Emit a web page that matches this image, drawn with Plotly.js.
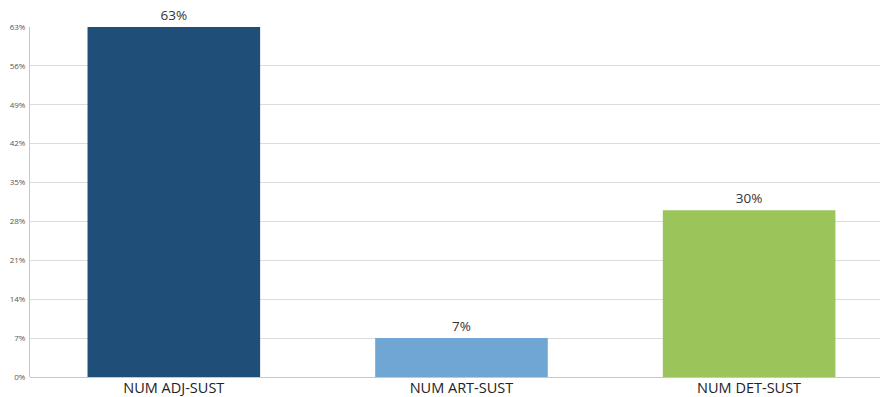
<!DOCTYPE html>
<html>
<head>
<meta charset="utf-8">
<script src="https://cdn.plot.ly/plotly-3.0.1.min.js"></script>
<style>
  html, body { margin: 0; padding: 0; background: #fff; overflow: hidden; }
  #chart { width: 883px; height: 397px; }
</style>
</head>
<body>
<div id="chart"></div>
<script>
// Share of each construction type (percent)
const categories = ["NUM ADJ-SUST", "NUM ART-SUST", "NUM DET-SUST"];
const shares = [63, 7, 30];
const barColors = ["#1F4E79", "#6FA6D4", "#9BC55A"];
const yTicks = [0, 7, 14, 21, 28, 35, 42, 49, 56, 63];

const trace = {
  type: "bar",
  x: categories,
  y: shares,
  marker: { color: barColors },
  text: shares.map(v => v + "%"),
  textposition: "outside",
  cliponaxis: false,
  textfont: { family: "Open Sans, Noto Sans, sans-serif", size: 13.5, color: "#333" },
  hoverinfo: "skip"
};

const layout = {
  width: 883,
  height: 397,
  margin: { l: 30, r: 3, t: 27, b: 20 },
  paper_bgcolor: "#ffffff",
  plot_bgcolor: "#ffffff",
  showlegend: false,
  bargap: 0.4,
  xaxis: {
    range: [-0.5, 2.455],
    showgrid: false,
    showline: false,
    zeroline: false,
    ticks: "",
    ticklabelstandoff: 0,
    tickfont: { family: "Open Sans, Noto Sans, sans-serif", size: 14.5, color: "#222" },
    fixedrange: true
  },
  yaxis: {
    range: [0, 63],
    tickvals: yTicks,
    ticktext: yTicks.map(v => v + "%"),
    showgrid: true,
    gridcolor: "#dcdcdc",
    gridwidth: 1,
    showline: true,
    linecolor: "#c8c8c8",
    zeroline: true,
    zerolinecolor: "#c8c8c8",
    ticks: "",
    ticklabelstandoff: 2,
    tickfont: { family: "Open Sans, Noto Sans, sans-serif", size: 8, color: "#555" },
    fixedrange: true
  }
};

Plotly.newPlot("chart", [trace], layout, { displayModeBar: false, staticPlot: true });
</script>
</body>
</html>
